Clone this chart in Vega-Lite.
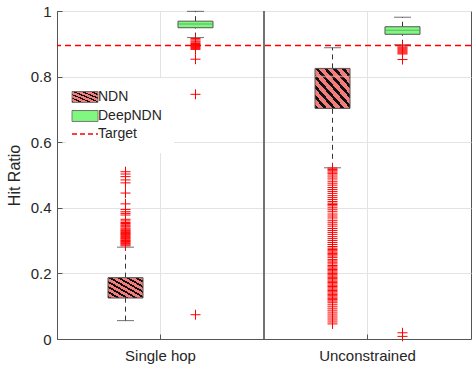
{
  "$schema": "https://vega.github.io/schema/vega-lite/v6.json",
  "width": 414,
  "height": 328,
  "autosize": {"type": "none"},
  "padding": {"left": 57, "top": 11, "right": 1, "bottom": 28},
  "background": "white",
  "config": {
    "view": {"stroke": "#555555", "strokeWidth": 1},
    "font": "Liberation Sans"
  },
  "datasets": {
    "stats": [
      {"group": "Single hop", "series": "NDN", "lo": 0.056, "q1": 0.125, "med": 0.158, "q3": 0.187, "hi": 0.28},
      {"group": "Single hop", "series": "DeepNDN", "lo": 0.919, "q1": 0.949, "med": 0.96, "q3": 0.969, "hi": 0.999},
      {"group": "Unconstrained", "series": "NDN", "lo": 0.522, "q1": 0.703, "med": 0.8, "q3": 0.825, "hi": 0.888},
      {"group": "Unconstrained", "series": "DeepNDN", "lo": 0.897, "q1": 0.929, "med": 0.941, "q3": 0.952, "hi": 0.981}
    ],
    "outliers": [
      {"group": "Single hop", "series": "NDN", "value": 0.51},
      {"group": "Single hop", "series": "NDN", "value": 0.503},
      {"group": "Single hop", "series": "NDN", "value": 0.495},
      {"group": "Single hop", "series": "NDN", "value": 0.485},
      {"group": "Single hop", "series": "NDN", "value": 0.476},
      {"group": "Single hop", "series": "NDN", "value": 0.445},
      {"group": "Single hop", "series": "NDN", "value": 0.412},
      {"group": "Single hop", "series": "NDN", "value": 0.395},
      {"group": "Single hop", "series": "NDN", "value": 0.388},
      {"group": "Single hop", "series": "NDN", "value": 0.383},
      {"group": "Single hop", "series": "NDN", "value": 0.378},
      {"group": "Single hop", "series": "NDN", "value": 0.365},
      {"group": "Single hop", "series": "NDN", "value": 0.36},
      {"group": "Single hop", "series": "NDN", "value": 0.355},
      {"group": "Single hop", "series": "NDN", "value": 0.352},
      {"group": "Single hop", "series": "NDN", "value": 0.348},
      {"group": "Single hop", "series": "NDN", "value": 0.345},
      {"group": "Single hop", "series": "NDN", "value": 0.342},
      {"group": "Single hop", "series": "NDN", "value": 0.338},
      {"group": "Single hop", "series": "NDN", "value": 0.335},
      {"group": "Single hop", "series": "NDN", "value": 0.332},
      {"group": "Single hop", "series": "NDN", "value": 0.33},
      {"group": "Single hop", "series": "NDN", "value": 0.327},
      {"group": "Single hop", "series": "NDN", "value": 0.325},
      {"group": "Single hop", "series": "NDN", "value": 0.322},
      {"group": "Single hop", "series": "NDN", "value": 0.32},
      {"group": "Single hop", "series": "NDN", "value": 0.318},
      {"group": "Single hop", "series": "NDN", "value": 0.315},
      {"group": "Single hop", "series": "NDN", "value": 0.312},
      {"group": "Single hop", "series": "NDN", "value": 0.31},
      {"group": "Single hop", "series": "NDN", "value": 0.307},
      {"group": "Single hop", "series": "NDN", "value": 0.305},
      {"group": "Single hop", "series": "NDN", "value": 0.302},
      {"group": "Single hop", "series": "NDN", "value": 0.3},
      {"group": "Single hop", "series": "NDN", "value": 0.297},
      {"group": "Single hop", "series": "NDN", "value": 0.295},
      {"group": "Single hop", "series": "NDN", "value": 0.292},
      {"group": "Single hop", "series": "NDN", "value": 0.29},
      {"group": "Single hop", "series": "NDN", "value": 0.287},
      {"group": "Single hop", "series": "NDN", "value": 0.284},
      {"group": "Single hop", "series": "DeepNDN", "value": 0.916},
      {"group": "Single hop", "series": "DeepNDN", "value": 0.912},
      {"group": "Single hop", "series": "DeepNDN", "value": 0.908},
      {"group": "Single hop", "series": "DeepNDN", "value": 0.905},
      {"group": "Single hop", "series": "DeepNDN", "value": 0.901},
      {"group": "Single hop", "series": "DeepNDN", "value": 0.898},
      {"group": "Single hop", "series": "DeepNDN", "value": 0.895},
      {"group": "Single hop", "series": "DeepNDN", "value": 0.892},
      {"group": "Single hop", "series": "DeepNDN", "value": 0.889},
      {"group": "Single hop", "series": "DeepNDN", "value": 0.886},
      {"group": "Single hop", "series": "DeepNDN", "value": 0.883},
      {"group": "Single hop", "series": "DeepNDN", "value": 0.853},
      {"group": "Single hop", "series": "DeepNDN", "value": 0.746},
      {"group": "Single hop", "series": "DeepNDN", "value": 0.074},
      {"group": "Unconstrained", "series": "NDN", "value": 0.521},
      {"group": "Unconstrained", "series": "NDN", "value": 0.517},
      {"group": "Unconstrained", "series": "NDN", "value": 0.513},
      {"group": "Unconstrained", "series": "NDN", "value": 0.509},
      {"group": "Unconstrained", "series": "NDN", "value": 0.505},
      {"group": "Unconstrained", "series": "NDN", "value": 0.5},
      {"group": "Unconstrained", "series": "NDN", "value": 0.494},
      {"group": "Unconstrained", "series": "NDN", "value": 0.488},
      {"group": "Unconstrained", "series": "NDN", "value": 0.481},
      {"group": "Unconstrained", "series": "NDN", "value": 0.475},
      {"group": "Unconstrained", "series": "NDN", "value": 0.469},
      {"group": "Unconstrained", "series": "NDN", "value": 0.462},
      {"group": "Unconstrained", "series": "NDN", "value": 0.456},
      {"group": "Unconstrained", "series": "NDN", "value": 0.45},
      {"group": "Unconstrained", "series": "NDN", "value": 0.444},
      {"group": "Unconstrained", "series": "NDN", "value": 0.437},
      {"group": "Unconstrained", "series": "NDN", "value": 0.431},
      {"group": "Unconstrained", "series": "NDN", "value": 0.425},
      {"group": "Unconstrained", "series": "NDN", "value": 0.419},
      {"group": "Unconstrained", "series": "NDN", "value": 0.414},
      {"group": "Unconstrained", "series": "NDN", "value": 0.41},
      {"group": "Unconstrained", "series": "NDN", "value": 0.406},
      {"group": "Unconstrained", "series": "NDN", "value": 0.4},
      {"group": "Unconstrained", "series": "NDN", "value": 0.394},
      {"group": "Unconstrained", "series": "NDN", "value": 0.388},
      {"group": "Unconstrained", "series": "NDN", "value": 0.381},
      {"group": "Unconstrained", "series": "NDN", "value": 0.375},
      {"group": "Unconstrained", "series": "NDN", "value": 0.369},
      {"group": "Unconstrained", "series": "NDN", "value": 0.362},
      {"group": "Unconstrained", "series": "NDN", "value": 0.356},
      {"group": "Unconstrained", "series": "NDN", "value": 0.35},
      {"group": "Unconstrained", "series": "NDN", "value": 0.344},
      {"group": "Unconstrained", "series": "NDN", "value": 0.337},
      {"group": "Unconstrained", "series": "NDN", "value": 0.331},
      {"group": "Unconstrained", "series": "NDN", "value": 0.325},
      {"group": "Unconstrained", "series": "NDN", "value": 0.319},
      {"group": "Unconstrained", "series": "NDN", "value": 0.312},
      {"group": "Unconstrained", "series": "NDN", "value": 0.306},
      {"group": "Unconstrained", "series": "NDN", "value": 0.3},
      {"group": "Unconstrained", "series": "NDN", "value": 0.294},
      {"group": "Unconstrained", "series": "NDN", "value": 0.288},
      {"group": "Unconstrained", "series": "NDN", "value": 0.282},
      {"group": "Unconstrained", "series": "NDN", "value": 0.277},
      {"group": "Unconstrained", "series": "NDN", "value": 0.273},
      {"group": "Unconstrained", "series": "NDN", "value": 0.269},
      {"group": "Unconstrained", "series": "NDN", "value": 0.265},
      {"group": "Unconstrained", "series": "NDN", "value": 0.261},
      {"group": "Unconstrained", "series": "NDN", "value": 0.257},
      {"group": "Unconstrained", "series": "NDN", "value": 0.253},
      {"group": "Unconstrained", "series": "NDN", "value": 0.248},
      {"group": "Unconstrained", "series": "NDN", "value": 0.242},
      {"group": "Unconstrained", "series": "NDN", "value": 0.238},
      {"group": "Unconstrained", "series": "NDN", "value": 0.234},
      {"group": "Unconstrained", "series": "NDN", "value": 0.229},
      {"group": "Unconstrained", "series": "NDN", "value": 0.224},
      {"group": "Unconstrained", "series": "NDN", "value": 0.22},
      {"group": "Unconstrained", "series": "NDN", "value": 0.216},
      {"group": "Unconstrained", "series": "NDN", "value": 0.212},
      {"group": "Unconstrained", "series": "NDN", "value": 0.208},
      {"group": "Unconstrained", "series": "NDN", "value": 0.204},
      {"group": "Unconstrained", "series": "NDN", "value": 0.2},
      {"group": "Unconstrained", "series": "NDN", "value": 0.196},
      {"group": "Unconstrained", "series": "NDN", "value": 0.192},
      {"group": "Unconstrained", "series": "NDN", "value": 0.188},
      {"group": "Unconstrained", "series": "NDN", "value": 0.184},
      {"group": "Unconstrained", "series": "NDN", "value": 0.18},
      {"group": "Unconstrained", "series": "NDN", "value": 0.176},
      {"group": "Unconstrained", "series": "NDN", "value": 0.172},
      {"group": "Unconstrained", "series": "NDN", "value": 0.168},
      {"group": "Unconstrained", "series": "NDN", "value": 0.164},
      {"group": "Unconstrained", "series": "NDN", "value": 0.16},
      {"group": "Unconstrained", "series": "NDN", "value": 0.156},
      {"group": "Unconstrained", "series": "NDN", "value": 0.152},
      {"group": "Unconstrained", "series": "NDN", "value": 0.148},
      {"group": "Unconstrained", "series": "NDN", "value": 0.144},
      {"group": "Unconstrained", "series": "NDN", "value": 0.14},
      {"group": "Unconstrained", "series": "NDN", "value": 0.136},
      {"group": "Unconstrained", "series": "NDN", "value": 0.132},
      {"group": "Unconstrained", "series": "NDN", "value": 0.128},
      {"group": "Unconstrained", "series": "NDN", "value": 0.124},
      {"group": "Unconstrained", "series": "NDN", "value": 0.12},
      {"group": "Unconstrained", "series": "NDN", "value": 0.116},
      {"group": "Unconstrained", "series": "NDN", "value": 0.112},
      {"group": "Unconstrained", "series": "NDN", "value": 0.106},
      {"group": "Unconstrained", "series": "NDN", "value": 0.1},
      {"group": "Unconstrained", "series": "NDN", "value": 0.094},
      {"group": "Unconstrained", "series": "NDN", "value": 0.088},
      {"group": "Unconstrained", "series": "NDN", "value": 0.082},
      {"group": "Unconstrained", "series": "NDN", "value": 0.076},
      {"group": "Unconstrained", "series": "NDN", "value": 0.07},
      {"group": "Unconstrained", "series": "NDN", "value": 0.064},
      {"group": "Unconstrained", "series": "NDN", "value": 0.058},
      {"group": "Unconstrained", "series": "NDN", "value": 0.052},
      {"group": "Unconstrained", "series": "NDN", "value": 0.046},
      {"group": "Unconstrained", "series": "DeepNDN", "value": 0.894},
      {"group": "Unconstrained", "series": "DeepNDN", "value": 0.89},
      {"group": "Unconstrained", "series": "DeepNDN", "value": 0.887},
      {"group": "Unconstrained", "series": "DeepNDN", "value": 0.884},
      {"group": "Unconstrained", "series": "DeepNDN", "value": 0.881},
      {"group": "Unconstrained", "series": "DeepNDN", "value": 0.878},
      {"group": "Unconstrained", "series": "DeepNDN", "value": 0.875},
      {"group": "Unconstrained", "series": "DeepNDN", "value": 0.872},
      {"group": "Unconstrained", "series": "DeepNDN", "value": 0.869},
      {"group": "Unconstrained", "series": "DeepNDN", "value": 0.852},
      {"group": "Unconstrained", "series": "DeepNDN", "value": 0.019},
      {"group": "Unconstrained", "series": "DeepNDN", "value": 0.008}
    ],
    "target": [{"label": "Target", "value": 0.895}]
  },
  "layer": [
    {
      "data": {"name": "stats"},
      "mark": {"type": "rule", "color": "#333333", "strokeDash": [5, 4], "strokeWidth": 1},
      "encoding": {
        "x": {
          "field": "group", "type": "nominal",
          "scale": {"domain": ["Single hop", "Unconstrained"], "paddingInner": 0, "paddingOuter": 0},
          "axis": {
            "title": null, "labelAngle": 0, "labelFontSize": 15, "labelColor": "#262626",
            "labelPadding": 14, "bandPosition": 0.5, "grid": true, "gridColor": "#e3e3e3",
            "tickSize": -5, "tickColor": "#555555", "domainColor": "#555555"
          }
        },
        "xOffset": {"field": "series", "type": "nominal", "scale": {"domain": ["NDN", "DeepNDN"], "paddingInner": 0.5, "paddingOuter": 0.729}},
        "y": {
          "field": "q3", "type": "quantitative",
          "scale": {"domain": [0, 1], "nice": false},
          "axis": {
            "title": "Hit Ratio", "titleFontSize": 16, "titleFontWeight": "normal", "titleColor": "#262626",
            "titlePadding": 8, "values": [0, 0.2, 0.4, 0.6, 0.8, 1], "format": "~g",
            "labelFontSize": 15, "labelColor": "#262626", "labelPadding": 11, "tickSize": -5,
            "tickColor": "#555555", "gridColor": "#e3e3e3", "domainColor": "#555555"
          }
        },
        "y2": {"field": "hi"}
      }
    },
    {
      "data": {"name": "stats"},
      "mark": {"type": "rule", "color": "#333333", "strokeDash": [5, 4], "strokeWidth": 1},
      "encoding": {
        "x": {"field": "group", "type": "nominal"},
        "xOffset": {"field": "series", "type": "nominal"},
        "y": {"field": "lo", "type": "quantitative"},
        "y2": {"field": "q1"}
      }
    },
    {
      "data": {"name": "stats"},
      "mark": {"type": "rule", "color": "#6a6a6a", "strokeWidth": 1},
      "encoding": {"x": {"datum": "Unconstrained", "type": "nominal", "bandPosition": 0}}
    },
    {
      "data": {"name": "stats"},
      "transform": [{"filter": "datum.series === 'NDN'"}],
      "mark": {
        "type": "bar", "stroke": "#555555", "strokeWidth": 1,
        "fill": {
          "gradient": "linear", "x1": 0, "y1": 1, "x2": 1, "y2": 0,
          "stops": [
            {"offset": 0, "color": "#111111"}, {"offset": 0.05, "color": "#111111"}, {"offset": 0.05, "color": "#f27d7d"}, {"offset": 0.125, "color": "#f27d7d"},
            {"offset": 0.125, "color": "#111111"}, {"offset": 0.175, "color": "#111111"}, {"offset": 0.175, "color": "#f27d7d"}, {"offset": 0.25, "color": "#f27d7d"},
            {"offset": 0.25, "color": "#111111"}, {"offset": 0.3, "color": "#111111"}, {"offset": 0.3, "color": "#f27d7d"}, {"offset": 0.375, "color": "#f27d7d"},
            {"offset": 0.375, "color": "#111111"}, {"offset": 0.425, "color": "#111111"}, {"offset": 0.425, "color": "#f27d7d"}, {"offset": 0.5, "color": "#f27d7d"},
            {"offset": 0.5, "color": "#111111"}, {"offset": 0.55, "color": "#111111"}, {"offset": 0.55, "color": "#f27d7d"}, {"offset": 0.625, "color": "#f27d7d"},
            {"offset": 0.625, "color": "#111111"}, {"offset": 0.675, "color": "#111111"}, {"offset": 0.675, "color": "#f27d7d"}, {"offset": 0.75, "color": "#f27d7d"},
            {"offset": 0.75, "color": "#111111"}, {"offset": 0.8, "color": "#111111"}, {"offset": 0.8, "color": "#f27d7d"}, {"offset": 0.875, "color": "#f27d7d"},
            {"offset": 0.875, "color": "#111111"}, {"offset": 0.925, "color": "#111111"}, {"offset": 0.925, "color": "#f27d7d"}, {"offset": 1, "color": "#f27d7d"}
          ]
        }
      },
      "encoding": {
        "x": {"field": "group", "type": "nominal"},
        "xOffset": {"field": "series", "type": "nominal"},
        "y": {"field": "q1", "type": "quantitative"},
        "y2": {"field": "q3"}
      }
    },
    {
      "data": {"name": "stats"},
      "transform": [{"filter": "datum.series === 'DeepNDN'"}],
      "mark": {"type": "bar", "fill": "#80f880", "stroke": "#555555", "strokeWidth": 1},
      "encoding": {
        "x": {"field": "group", "type": "nominal"},
        "xOffset": {"field": "series", "type": "nominal"},
        "y": {"field": "q1", "type": "quantitative"},
        "y2": {"field": "q3"}
      }
    },
    {
      "data": {"name": "stats"},
      "transform": [{"filter": "datum.series === 'DeepNDN'"}],
      "mark": {"type": "tick", "color": "#4d9a4d", "thickness": 1, "size": 35},
      "encoding": {
        "x": {"field": "group", "type": "nominal"},
        "xOffset": {"field": "series", "type": "nominal"},
        "y": {"field": "med", "type": "quantitative"}
      }
    },
    {
      "data": {"name": "stats"},
      "transform": [{"filter": "datum.series === 'NDN' && datum.group === 'Unconstrained'"}],
      "mark": {"type": "tick", "color": "#f5a0a0", "thickness": 1.5, "size": 35},
      "encoding": {
        "x": {"field": "group", "type": "nominal"},
        "xOffset": {"field": "series", "type": "nominal"},
        "y": {"field": "med", "type": "quantitative"}
      }
    },
    {
      "data": {"name": "stats"},
      "mark": {"type": "tick", "color": "#333333", "thickness": 1, "size": 17},
      "encoding": {
        "x": {"field": "group", "type": "nominal"},
        "xOffset": {"field": "series", "type": "nominal"},
        "y": {"field": "hi", "type": "quantitative"}
      }
    },
    {
      "data": {"name": "stats"},
      "mark": {"type": "tick", "color": "#333333", "thickness": 1, "size": 17},
      "encoding": {
        "x": {"field": "group", "type": "nominal"},
        "xOffset": {"field": "series", "type": "nominal"},
        "y": {"field": "lo", "type": "quantitative"}
      }
    },
    {
      "data": {"name": "outliers"},
      "mark": {"type": "point", "shape": "M-1,0H1M0,-1V1", "filled": false, "stroke": "#ff0000", "strokeWidth": 1, "size": 100, "opacity": 1},
      "encoding": {
        "x": {"field": "group", "type": "nominal"},
        "xOffset": {"field": "series", "type": "nominal"},
        "y": {"field": "value", "type": "quantitative"}
      }
    },
    {
      "data": {"name": "target"},
      "mark": {"type": "rule", "strokeDash": [6, 4], "strokeWidth": 1.5},
      "encoding": {
        "y": {"field": "value", "type": "quantitative"},
        "color": {
          "field": "label", "type": "nominal",
          "scale": {"domain": ["NDN", "DeepNDN", "Target"], "range": ["#707070", "#707070", "#ff0000"]},
          "legend": {
            "title": null, "orient": "none", "legendX": 9, "legendY": 67,
            "fillColor": "white", "padding": 12, "labelFontSize": 14, "labelColor": "#262626",
            "labelFont": "Liberation Sans", "labelOffset": 6, "rowPadding": 3, "symbolSize": 676,
            "symbolOpacity": 1,
            "symbolType": {"expr": "datum.value === 'Target' ? 'stroke' : 'M-1,-0.42H1V0.42H-1Z'"},
            "symbolFillColor": {"expr": "datum.value === 'Target' ? 'transparent' : datum.value === 'DeepNDN' ? '#80f880' : {gradient: 'linear', x1: 0, y1: 1, x2: 1, y2: 0, stops: [{offset: 0, color: '#111111'}, {offset: 0.06, color: '#111111'}, {offset: 0.06, color: '#f27d7d'}, {offset: 0.166, color: '#f27d7d'}, {offset: 0.166, color: '#111111'}, {offset: 0.226, color: '#111111'}, {offset: 0.226, color: '#f27d7d'}, {offset: 0.333, color: '#f27d7d'}, {offset: 0.333, color: '#111111'}, {offset: 0.393, color: '#111111'}, {offset: 0.393, color: '#f27d7d'}, {offset: 0.5, color: '#f27d7d'}, {offset: 0.5, color: '#111111'}, {offset: 0.56, color: '#111111'}, {offset: 0.56, color: '#f27d7d'}, {offset: 0.666, color: '#f27d7d'}, {offset: 0.666, color: '#111111'}, {offset: 0.726, color: '#111111'}, {offset: 0.726, color: '#f27d7d'}, {offset: 0.833, color: '#f27d7d'}, {offset: 0.833, color: '#111111'}, {offset: 0.893, color: '#111111'}, {offset: 0.893, color: '#f27d7d'}, {offset: 1, color: '#f27d7d'}]}"},
            "symbolStrokeColor": {"expr": "datum.value === 'Target' ? '#ff0000' : '#707070'"},
            "symbolDash": {"expr": "datum.value === 'Target' ? [5, 3] : [1, 0]"},
            "symbolStrokeWidth": {"expr": "datum.value === 'Target' ? 1.5 : 1"}
          }
        }
      }
    }
  ]
}
